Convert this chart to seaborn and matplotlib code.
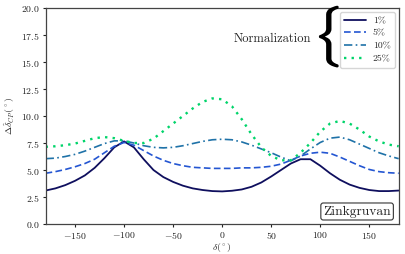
import numpy as np
import pandas as pd
import matplotlib
matplotlib.use("Agg")
import matplotlib.pyplot as plt
import matplotlib.patheffects as pe
import seaborn as sns

delta = [-180, -170, -160, -150, -140, -130, -120, -110, -100, -90, -80, -70, -60,
         -50, -40, -30, -20, -10, 0, 10, 20, 30, 40, 50, 60, 70, 80, 90, 100, 110,
         120, 130, 140, 150, 160, 170, 180]

norm_1 = [3.1, 3.3, 3.6, 4.0, 4.5, 5.2, 6.1, 7.1, 7.65, 7.1, 6.0, 5.0, 4.35,
          3.9, 3.55, 3.3, 3.15, 3.05, 3.02, 3.08, 3.2, 3.45, 3.85, 4.4, 5.0, 5.6, 6.0,
          6.0, 5.4, 4.7, 4.1, 3.65, 3.35, 3.15, 3.05, 3.05, 3.1]
norm_5 = [4.7, 4.85, 5.05, 5.3, 5.6, 6.0, 6.6, 7.2, 7.55, 7.3, 6.8, 6.3, 5.9,
          5.6, 5.4, 5.25, 5.2, 5.15, 5.15, 5.15, 5.2, 5.2, 5.25, 5.35, 5.55, 5.9, 6.3,
          6.55, 6.65, 6.55, 6.2, 5.8, 5.4, 5.05, 4.85, 4.75, 4.7]
norm_10 = [6.05, 6.1, 6.25, 6.45, 6.75, 7.1, 7.45, 7.7, 7.7, 7.5, 7.25, 7.1, 7.05,
           7.1, 7.25, 7.45, 7.65, 7.8, 7.85, 7.8, 7.6, 7.3, 6.95, 6.6, 6.2, 5.85, 6.3,
           6.95, 7.55, 7.95, 8.05, 7.8, 7.4, 7.0, 6.6, 6.3, 6.05]
norm_25 = [7.15, 7.2, 7.3, 7.45, 7.7, 7.95, 8.05, 7.95, 7.7, 7.5, 7.5, 7.9, 8.6,
           9.3, 10.0, 10.7, 11.3, 11.63, 11.55, 10.9, 9.7, 8.3, 7.1, 6.3, 5.9, 5.9, 6.6,
           7.5, 8.55, 9.3, 9.55, 9.3, 8.75, 8.1, 7.65, 7.35, 7.2]

labels = ["1%", "5%", "10%", "25%"]
series = [norm_1, norm_5, norm_10, norm_25]
colors = ["#0f0f5e", "#2456d2", "#1f72a8", "#00d46a"]
styles = ["-", (0, (4, 2)), (0, (5, 2, 1, 2)), (0, (1, 2.2))]
widths = [1.3, 1.2, 1.2, 1.7]

sns.set_style("ticks")
plt.rcParams["font.family"] = ["cmr10", "DejaVu Serif"]
plt.rcParams["mathtext.fontset"] = "cm"
plt.rcParams["axes.formatter.use_mathtext"] = True
plt.rcParams["axes.unicode_minus"] = True

fig = plt.figure(figsize=(4.05, 2.54), dpi=100)
ax = fig.add_axes([0.1126, 0.118, 0.8718, 0.8505])

for lab, vals, c, ls, lw in zip(labels, series, colors, styles, widths):
    df = pd.DataFrame({"delta": delta, "val": vals})
    sns.lineplot(data=df, x="delta", y="val", ax=ax, color=c, linestyle=ls,
                 linewidth=lw, label=lab)

ax.set_xlim(-180, 180)
ax.set_ylim(0, 20)
ax.set_yticks(np.arange(0, 20.01, 2.5))
ax.set_xticks([-150, -100, -50, 0, 50, 100, 150])
ax.tick_params(labelsize=7, length=2.5, width=0.8, pad=1.5, colors="#222222")
ax.set_xlabel(r"$\delta(^\circ)$", fontsize=7, labelpad=0)
ax.set_ylabel(r"$\Delta\hat{\delta}_{CP}(^\circ)$", fontsize=7, labelpad=3)
for s in ax.spines.values():
    s.set_color("#444444")
    s.set_linewidth(0.9)

leg = ax.legend(loc="upper right", fontsize=7, handlelength=2.2, handletextpad=0.7,
                labelspacing=0.4, borderpad=0.45, borderaxespad=0.4,
                fancybox=True, framealpha=0.8, edgecolor="#cccccc")

ax.text(0.797, 0.866, r"$\{$", transform=ax.transAxes, fontsize=36, ha="center",
        va="center", color="black",
        path_effects=[pe.withStroke(linewidth=1.2, foreground="black")])
ax.text(0.752, 0.858, "Normalization", transform=ax.transAxes, fontsize=9,
        ha="right", va="center")
ax.text(0.978, 0.03, "Zinkgruvan", transform=ax.transAxes, fontsize=9.8,
        ha="right", va="bottom",
        bbox=dict(boxstyle="round,pad=0.18", facecolor="white", edgecolor="#333333",
                  linewidth=0.8))

fig.savefig("out.png", dpi=100)
